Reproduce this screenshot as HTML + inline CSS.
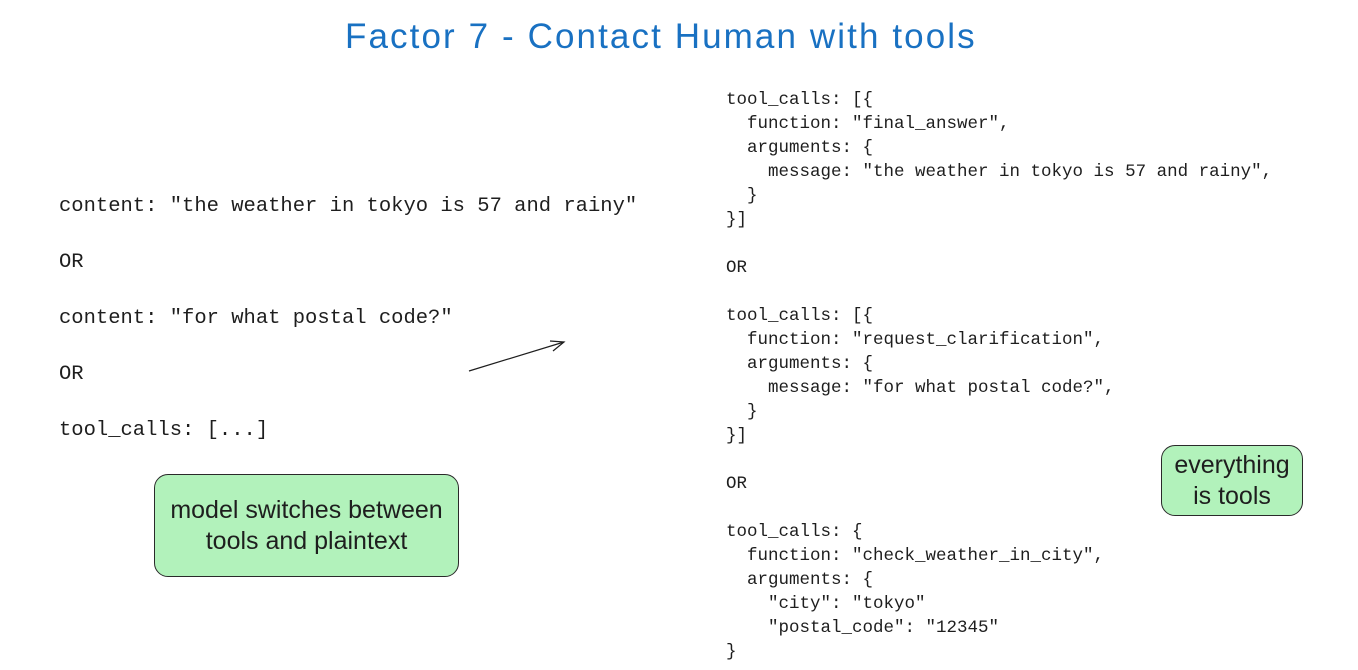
<!DOCTYPE html>
<html><head><style>
body{margin:0;width:1358px;height:670px;background:#fff;position:relative;overflow:hidden;font-family:"Liberation Mono",monospace;color:#1e1e1e}
.t{position:absolute;white-space:pre}
.l{font-size:20.5px;left:59px}
.r{font-size:17.5px;left:726px;line-height:24px;top:88px}
.box{position:absolute;background:#b2f2bb;border:1.5px solid #2a2a2a;border-radius:14px;font-family:"Liberation Sans",sans-serif;font-size:25px;text-align:center;line-height:31px;display:flex;align-items:center;justify-content:center;color:#1e1e1e}
</style></head><body>
<div class="t" style="left:345px;top:17px;font-family:'Liberation Sans',sans-serif;font-size:35px;color:#1971c2;letter-spacing:2.1px">Factor 7 - Contact Human with tools</div>
<div class="t l" style="top:195px">content: "the weather in tokyo is 57 and rainy"</div>
<div class="t l" style="top:251px">OR</div>
<div class="t l" style="top:307px">content: "for what postal code?"</div>
<div class="t l" style="top:363px">OR</div>
<div class="t l" style="top:419px">tool_calls: [...]</div>
<div class="t r">tool_calls: [{
  function: "final_answer",
  arguments: {
    message: "the weather in tokyo is 57 and rainy",
  }
}]

OR

tool_calls: [{
  function: "request_clarification",
  arguments: {
    message: "for what postal code?",
  }
}]

OR

tool_calls: {
  function: "check_weather_in_city",
  arguments: {
    "city": "tokyo"
    "postal_code": "12345"
}</div>
<svg style="position:absolute;left:0;top:0" width="1358" height="670"><line x1="469" y1="371" x2="564" y2="342" stroke="#1e1e1e" stroke-width="1.2"/><path d="M550 341 L564 342 L553 351" fill="none" stroke="#1e1e1e" stroke-width="1.2"/></svg>
<div class="box" style="left:154px;top:474px;width:303px;height:101px">model switches between<br>tools and plaintext</div>
<div class="box" style="left:1161px;top:445px;width:140px;height:69px">everything<br>is tools</div>
</body></html>
